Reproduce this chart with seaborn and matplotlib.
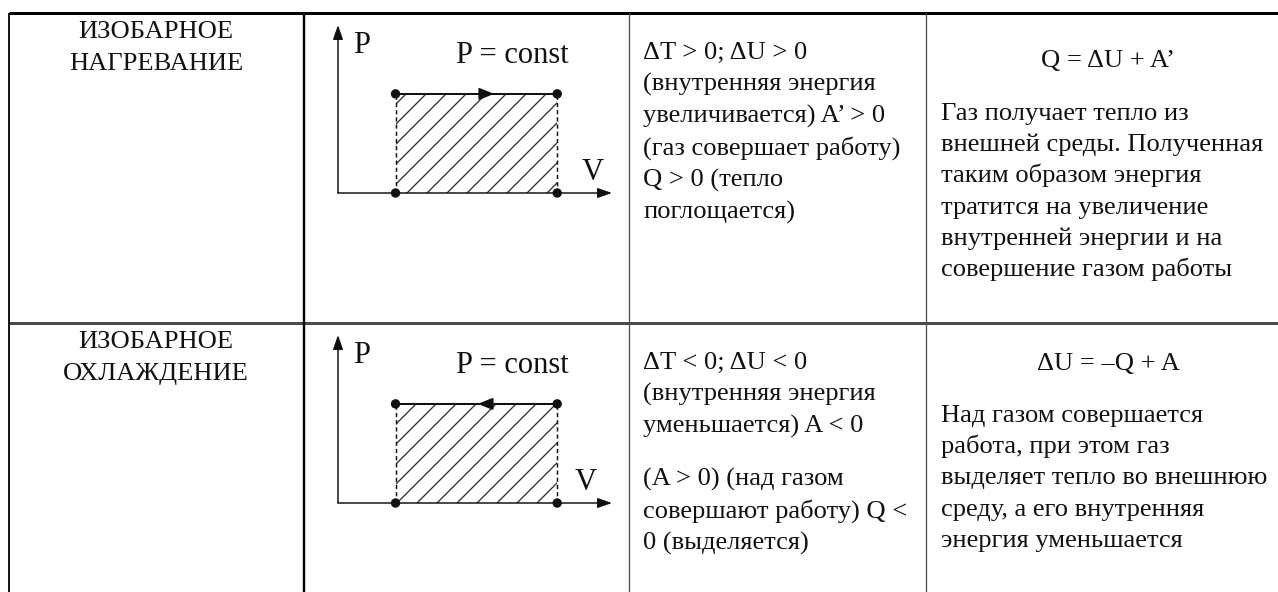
import matplotlib
matplotlib.use("Agg")
import matplotlib.pyplot as plt
import seaborn as sns
import pandas as pd

# Размер итоговой картинки (пиксели) и dpi
W, H = 1278, 592
DPI = 120
PT = 72 / DPI          # 1 пиксель в пунктах

# ---- данные PV-диаграмм (условные единицы, оси 0..10) ----
V_STATES = [2.1, 8.0]        # V1, V2 (пунктирные вертикали)
P_CONST = 5.9                # давление на изобаре
ARROW_V = [5.7, 5.1]         # положение стрелки на изобаре (остриё)
ARROW_DIR = [1, -1]          # нагревание -> вправо, охлаждение -> влево

# ---- текст таблицы ----
ROW_TITLES = [
    ["ИЗОБАРНОЕ", "НАГРЕВАНИЕ"],
    ["ИЗОБАРНОЕ", "ОХЛАЖДЕНИЕ"],
]
SIGN_TEXT = [
    [["ΔT > 0; ΔU > 0", "(внутренняя энергия", "увеличивается) A’ > 0",
      "(газ совершает работу)", "Q > 0 (тепло", "поглощается)"]],
    [["ΔT < 0; ΔU < 0", "(внутренняя энергия", "уменьшается) A < 0"],
     ["(A > 0) (над газом", "совершают работу) Q <", "0 (выделяется)"]],
]
FORMULAS = ["Q = ΔU + A’", "ΔU = –Q + A"]
EXPLAIN_TEXT = [
    ["Газ получает тепло из", "внешней среды. Полученная",
     "таким образом энергия", "тратится на увеличение",
     "внутренней энергии и на", "совершение газом работы"],
    ["Над газом совершается", "работа, при этом газ",
     "выделяет тепло во внешнюю", "среду, а его внутренняя",
     "энергия уменьшается"],
]

# ---- раскладка (пиксели) ----
ROW_TOP = [13, 323]
COL_X = [9, 304, 629, 926]
TITLE_CX = 156
SIGN_X = 643
FORMULA_CX = 1108
EXPLAIN_X = 941
FORMULA_OFF = [54, 47]
EXPLAIN_OFF = [107, 99]
AX_X0, AX_X1 = 338, 612      # начало координат и конец оси V
AX_Y0_OFF, AX_Y1_OFF = 180, 12

INK = "#111111"
TEXT_FS = 26.5 * PT
DIAG_FS = 30.5 * PT

sns.set_theme(style="white")
plt.rcParams["font.family"] = ["Liberation Serif", "DejaVu Serif"]
plt.rcParams["hatch.linewidth"] = 0.8
plt.rcParams["hatch.color"] = "#333333"


def put(x, y, s, ha="left", fs=TEXT_FS):
    ax.text(x, y, s, ha=ha, va="baseline", fontsize=fs, color=INK)


fig = plt.figure(figsize=(W / DPI, H / DPI), dpi=DPI)
fig.patch.set_facecolor("white")
ax = fig.add_axes([0, 0, 1, 1])
ax.set_xlim(0, W)
ax.set_ylim(H, 0)
ax.axis("off")

# линии таблицы
ax.hlines(ROW_TOP[0], COL_X[0], W, color="black", lw=3 * PT)
ax.hlines(ROW_TOP[1], COL_X[0], W, color="#4a4a4a", lw=3 * PT)
ax.vlines(COL_X[0], ROW_TOP[0], H, color="black", lw=1.8 * PT)
ax.vlines(COL_X[1], ROW_TOP[0], H, color="black", lw=2.4 * PT)
ax.vlines(COL_X[2:], ROW_TOP[0], H, color="#505050", lw=1.3 * PT)

for r, top in enumerate(ROW_TOP):
    # первый столбец
    for i, line in enumerate(ROW_TITLES[r]):
        put(TITLE_CX, top + 25.5 + 31.5 * i, line, ha="center")

    # второй столбец (абзацы)
    y = top + 46
    for para in SIGN_TEXT[r]:
        for line in para:
            put(SIGN_X, y, line)
            y += 32
        y += 21

    # третий столбец
    put(FORMULA_CX, top + FORMULA_OFF[r], FORMULAS[r], ha="center")
    for i, line in enumerate(EXPLAIN_TEXT[r]):
        put(EXPLAIN_X, top + EXPLAIN_OFF[r] + 31.2 * i, line)

    # PV-диаграмма
    y0 = top + AX_Y0_OFF
    y1 = top + AX_Y1_OFF
    dax = fig.add_axes([AX_X0 / W, 1 - y0 / H,
                        (AX_X1 - AX_X0) / W, (y0 - y1) / H])
    dax.patch.set_alpha(0)

    # штриховка (работа газа)
    dax.fill_between(V_STATES, 0, P_CONST, hatch="//", facecolor="none",
                     edgecolor="#333333", linewidth=0)
    # пунктирные вертикали
    dax.vlines(V_STATES, 0, P_CONST, color=INK, lw=1.5 * PT,
               linestyles=[(0, (2.8, 2.0))])
    # изобара
    iso = pd.DataFrame({"V": V_STATES, "P": [P_CONST] * len(V_STATES)})
    sns.lineplot(data=iso, x="V", y="P", ax=dax, color=INK,
                 lw=2.0 * PT, legend=False)
    # точки состояний
    pts = pd.DataFrame({"V": V_STATES * 2,
                        "P": [P_CONST] * 2 + [0.0] * 2})
    sns.scatterplot(data=pts, x="V", y="P", ax=dax, color=INK, s=32,
                    edgecolor="none", zorder=5, clip_on=False, legend=False)
    # стрелка направления процесса
    tip = ARROW_V[r]
    dax.annotate("", xy=(tip, P_CONST), xytext=(tip - ARROW_DIR[r] * 0.4, P_CONST),
                 arrowprops=dict(arrowstyle="-|>,head_length=0.45,head_width=0.18",
                                 mutation_scale=17, color=INK, lw=1.0,
                                 shrinkA=0, shrinkB=0))
    # оси P и V со стрелками
    for xy in [(10, 0), (0, 10)]:
        dax.annotate("", xy=xy, xytext=(0, 0), annotation_clip=False,
                     arrowprops=dict(arrowstyle="-|>,head_length=0.4,head_width=0.14",
                                     mutation_scale=18, color=INK, lw=1.5 * PT,
                                     shrinkA=0, shrinkB=0))
    dax.set_xlim(0, 10)
    dax.set_ylim(0, 10)
    dax.axis("off")

    put(353, top + 40, "P", fs=DIAG_FS)
    put(512, top + 50, "P = const", ha="center", fs=DIAG_FS)
    put(593 - 7 * r, top + 167, "V", ha="center", fs=DIAG_FS)

fig.savefig("out.png", dpi=DPI)
